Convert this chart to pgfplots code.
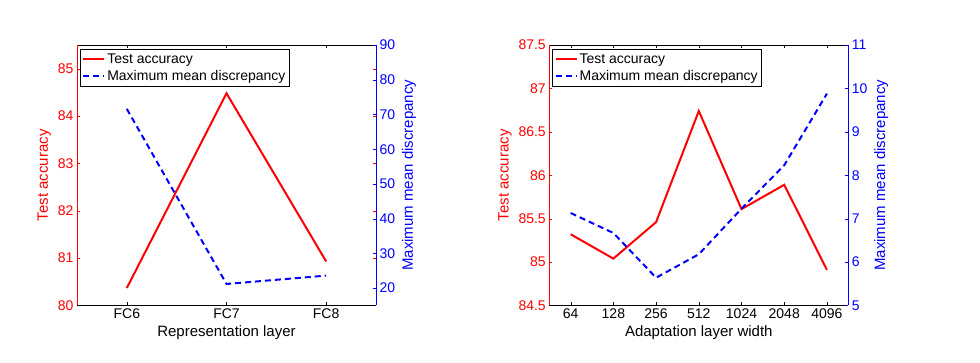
\documentclass[border=0pt]{standalone}
\usepackage{fontspec}
\setmainfont{Liberation Sans}
\usepackage{pgfplots}
\pgfplotsset{compat=1.18}
\begin{document}
\begin{tikzpicture}
\path[use as bounding box] (0,0) rectangle (980pt,-363pt);
\pgfplotsset{
  base/.style={scale only axis, width=299pt, height=260.5pt, anchor=north west,
    tick label style={font=\fontsize{14}{16}\selectfont},
    /pgf/number format/assume math mode=true,
    major tick length=3pt},
  leftax/.style={base, separate axis lines, x axis line style={black, line width=0.6pt},
    y axis line style={red, line width=0.6pt}, ytick style={red}, yticklabel style={red},
    ylabel style={red, font=\fontsize{15}{17}\selectfont},
    xlabel style={font=\fontsize{15}{17}\selectfont},
    xtick style={black}, tick align=inside, ytick pos=both, xtick pos=both,
    yticklabel pos=left},
  rightax/.style={base, axis x line=none, axis y line=right, tick align=inside,
    y axis line style={blue, line width=0.6pt, -}, ytick style={blue}, yticklabel style={blue},
    ylabel style={blue, font=\fontsize{15}{17}\selectfont},
    legend style={at={(0,1)}, anchor=north west, xshift=3pt, yshift=-4pt,
      draw=black, line width=0.6pt, fill=white, font=\fontsize{14}{16}\selectfont,
      inner xsep=2pt, inner ysep=2.5pt, row sep=1.5pt},
    legend cell align=left,
    legend image post style={line width=2pt},
    legend image code/.code={\draw[##1] (0pt,0pt) -- (21pt,0pt);}},
}
% ---------- left panel ----------
\begin{axis}[leftax, at={(77pt,-45pt)}, xmin=0.5, xmax=3.5, xtick={1,2,3},
  xticklabels={FC6,FC7,FC8}, ymin=80, ymax=85.5, ytick={80,81,82,83,84,85},
  xlabel={Representation layer}, ylabel={Test accuracy}]
\addplot[red, line width=2pt] coordinates {(1,80.37) (2,84.48) (3,80.93)};
\end{axis}
\begin{axis}[rightax, at={(77pt,-45pt)}, xmin=0.5, xmax=3.5,
  ymin=15, ymax=90, ytick={20,30,40,50,60,70,80,90},
  ylabel={Maximum mean discrepancy}]
\addlegendimage{red, line width=2pt}
\addlegendentry{Test accuracy}
\addplot[blue, line width=2pt, dash pattern=on 6pt off 4pt] coordinates {(1,71.6) (2,21.2) (3,23.6)};
\addlegendentry{Maximum mean discrepancy}
\end{axis}
% ---------- right panel ----------
\begin{axis}[leftax, at={(549.3pt,-45pt)}, xmin=-0.5, xmax=6.5, xtick={0,1,2,3,4,5,6},
  xticklabels={64,128,256,512,1024,2048,4096}, ymin=84.5, ymax=87.5,
  ytick={84.5,85,85.5,86,86.5,87,87.5},
  yticklabels={84.5,85,85.5,86,86.5,87,87.5},
  xlabel={Adaptation layer width}, ylabel={Test accuracy}]
\addplot[red, line width=2pt] coordinates {(0,85.32) (1,85.04) (2,85.46) (3,86.74) (4,85.61) (5,85.89) (6,84.91)};
\end{axis}
\begin{axis}[rightax, at={(549.3pt,-45pt)}, xmin=-0.5, xmax=6.5,
  ymin=5, ymax=11, ytick={5,6,7,8,9,10,11},
  ylabel={Maximum mean discrepancy}]
\addlegendimage{red, line width=2pt}
\addlegendentry{Test accuracy}
\addplot[blue, line width=2pt, dash pattern=on 6pt off 4pt] coordinates {(0,7.13) (1,6.67) (2,5.64) (3,6.18) (4,7.23) (5,8.23) (6,9.88)};
\addlegendentry{Maximum mean discrepancy}
\end{axis}
\end{tikzpicture}
\end{document}
